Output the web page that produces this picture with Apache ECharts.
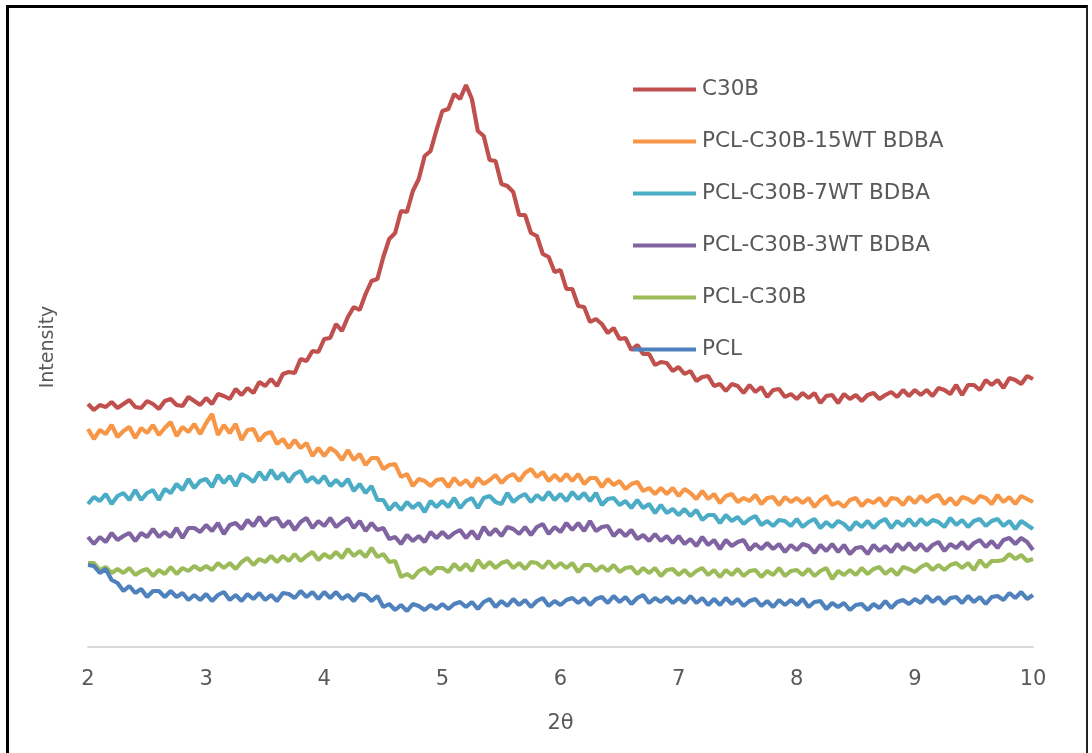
<!DOCTYPE html>
<html>
<head>
<meta charset="utf-8">
<script src="https://cdn.jsdelivr.net/npm/echarts@6/dist/echarts.min.js"></script>
<style>
html,body{margin:0;padding:0;background:#fff;}
#frame{position:absolute;left:6px;top:5px;width:1077px;height:760px;border-left:3px solid #000;border-top:3px solid #000;border-right:2px solid #222;}
#chart{position:absolute;left:0;top:0;width:1092px;height:753px;}
</style>
</head>
<body>
<div id="frame"></div>
<div id="chart"></div>
<script>
// 2θ sampling grid: 2.00 to 10.00 in steps of 0.05
const thetaStart = 2, thetaStep = 0.05, thetaCount = 161;
const xTicks = [2, 3, 4, 5, 6, 7, 8, 9, 10];
const seriesNames = ["C30B", "PCL-C30B-15WT BDBA", "PCL-C30B-7WT BDBA", "PCL-C30B-3WT BDBA", "PCL-C30B", "PCL"];

// intensity (arbitrary units), one value per 0.05° from 2 to 10
const c30b = [
243,237,242,240,245,239,243,247,240,239,246,243,238,246,248,242,241,250,246,242,
249,243,253,251,248,258,252,259,254,265,261,268,261,273,275,274,288,286,296,295,
308,309,323,316,330,340,337,353,366,368,390,408,414,436,435,456,468,491,496,517,
536,538,553,548,562,548,516,511,487,486,463,461,455,432,432,414,411,393,390,375,
377,358,358,341,340,325,328,323,314,319,308,309,297,302,293,293,282,285,284,276,
280,273,276,266,270,271,261,263,256,263,261,254,262,255,260,250,257,258,250,253,
248,254,249,254,244,251,252,244,253,248,252,246,252,254,248,252,255,250,257,251,
257,252,257,251,259,257,253,262,252,262,262,257,267,262,267,259,269,267,263,271,
268];
const wt15 = [
218,208,217,213,222,210,216,220,209,219,214,222,212,219,225,211,220,215,223,213,
224,233,212,222,214,223,207,217,218,206,213,215,203,208,199,207,199,204,191,199,
191,199,195,187,197,187,193,182,189,189,178,182,183,170,173,161,168,166,161,167,
168,160,169,162,167,160,169,163,167,172,164,170,173,166,174,178,170,175,166,172,
166,173,166,173,163,169,169,160,168,162,166,158,163,165,156,159,153,159,153,159,
151,158,154,148,156,148,153,144,151,153,145,149,146,152,143,149,150,142,150,145,
149,144,149,140,147,151,142,145,140,147,149,141,147,144,149,141,149,148,142,150,
144,151,145,150,152,143,149,142,150,148,144,151,149,143,152,145,150,143,151,148,
145];
const wt7 = [
143,150,146,153,143,151,154,147,157,147,154,157,147,158,154,163,157,168,159,166,
168,160,172,164,171,161,173,170,165,175,167,177,168,174,165,173,176,165,170,164,
171,161,167,161,168,156,163,154,161,147,147,137,144,137,145,139,144,135,146,140,
146,140,149,139,146,149,139,149,151,145,143,154,145,150,153,145,152,147,155,147,
153,146,155,148,154,146,154,142,148,149,142,146,139,147,139,143,134,142,134,138,
132,138,131,137,127,132,132,124,132,126,130,123,128,131,122,126,121,127,126,121,
128,120,125,128,119,125,120,126,123,117,125,120,126,119,125,128,119,126,121,128,
121,128,122,127,125,120,129,122,127,120,126,128,121,126,128,121,126,118,126,122,
118];
const wt3 = [
110,103,110,105,114,107,111,114,106,114,110,118,110,115,110,119,109,119,119,115,
122,116,124,113,122,124,118,127,121,130,121,128,129,120,126,117,125,129,119,126,
121,129,120,125,129,119,126,116,124,117,119,108,110,103,112,106,111,105,115,109,
115,109,114,117,109,116,108,120,112,118,111,120,118,113,120,112,120,123,113,120,
115,124,117,124,116,126,116,120,121,111,117,111,117,108,112,106,113,106,111,104,
111,103,108,101,110,102,107,98,107,101,105,107,97,103,98,104,98,103,95,102,
97,103,101,94,102,96,103,95,102,93,99,100,93,102,96,101,95,103,97,104,
97,103,96,102,105,96,103,99,105,98,104,107,100,106,99,107,109,103,109,105,
97];
const pclC30b = [
84,84,77,80,74,78,74,79,72,76,78,71,77,73,80,73,79,76,81,77,
81,77,84,79,84,78,85,89,82,88,85,91,85,91,86,93,86,91,95,87,
93,89,95,89,98,91,96,90,99,90,93,85,86,70,73,69,76,79,73,79,
79,75,83,77,83,76,87,79,85,79,84,86,79,84,78,85,84,79,86,79,
84,79,84,75,82,82,76,81,76,82,75,79,80,73,79,74,79,71,77,78,
72,77,71,76,79,72,77,70,77,72,78,71,76,77,70,76,72,79,71,76,
77,72,78,71,76,79,68,76,72,77,72,79,73,78,80,73,78,72,80,78,
75,80,83,77,82,77,82,84,79,84,77,87,80,86,86,87,93,88,92,86,
88];
const pcl = [
82,81,74,78,67,64,56,61,54,58,50,56,56,50,56,50,54,47,52,47,
53,46,52,55,47,52,46,53,48,54,47,52,46,54,53,49,56,50,55,48,
55,49,55,48,52,46,53,52,46,51,40,43,37,42,36,43,41,37,42,38,
43,38,43,45,40,45,38,45,48,40,46,41,48,42,47,40,46,49,41,46,
42,47,49,44,49,42,48,50,44,51,45,50,43,49,52,44,49,45,50,44,
49,44,51,44,49,42,48,42,49,43,48,41,46,48,41,46,40,47,42,47,
42,48,40,45,46,38,44,40,44,37,42,43,37,43,39,46,39,45,47,43,
48,44,51,45,50,43,49,50,44,51,45,50,43,50,51,47,54,49,55,48,
52];

const colors = ["#C0504D", "#F79646", "#4BACC6", "#8064A2", "#9BBB59", "#4F81BD"];
const values = [c30b, wt15, wt7, wt3, pclC30b, pcl];

function pairs(arr) {
  return arr.map((v, i) => [+(thetaStart + i * thetaStep).toFixed(2), v]);
}

const chart = echarts.init(document.getElementById('chart'), null, {renderer: 'canvas'});
const font = '"DejaVu Sans", sans-serif';
chart.setOption({
  animation: false,
  backgroundColor: 'transparent',
  grid: {left: 88, right: 59, top: 47, bottom: 106, containLabel: false},
  legend: {
    orient: 'vertical',
    left: 628,
    top: 72,
    itemWidth: 63,
    itemHeight: 4,
    itemGap: 27,
    icon: 'rect',
    textStyle: {fontFamily: font, fontSize: 21.5, color: '#595959', lineHeight: 25, padding: [0, 0, 0, 1]},
    data: seriesNames
  },
  xAxis: {
    type: 'value',
    min: 2, max: 10, interval: 1,
    name: '2θ', nameLocation: 'middle', nameGap: 66,
    nameTextStyle: {fontFamily: font, fontSize: 21, color: '#595959'},
    axisLine: {show: true, lineStyle: {color: '#d9d9d9', width: 2}},
    axisTick: {show: false},
    splitLine: {show: false},
    axisLabel: {fontFamily: font, fontSize: 21, color: '#595959', margin: 22,
      formatter: v => xTicks.includes(v) ? String(v) : ''}
  },
  yAxis: {
    type: 'value', min: 0, max: 600,
    name: 'Intensity', nameLocation: 'middle', nameGap: 30, nameRotate: 90,
    nameTextStyle: {fontFamily: font, fontSize: 19, color: '#595959'},
    axisLine: {show: false}, axisTick: {show: false}, axisLabel: {show: false}, splitLine: {show: false}
  },
  series: seriesNames.map((n, k) => ({
    name: n, type: 'line', data: pairs(values[k]), showSymbol: false, symbol: 'none',
    color: colors[k],
    lineStyle: {width: 4.2, color: colors[k]}
  }))
});
</script>
</body>
</html>
